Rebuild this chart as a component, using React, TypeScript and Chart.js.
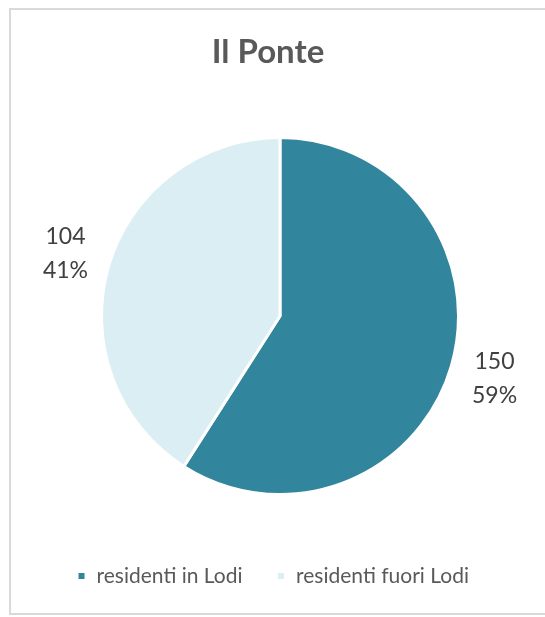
import React, { useEffect, useRef } from "react";
import { Chart, registerables } from "chart.js";

Chart.register(...registerables);

const TITLE = "Il Ponte";
const CATEGORIES = ["residenti in Lodi", "residenti fuori Lodi"];
const VALUES = [150, 104];
const COLORS = ["#31859C", "#DAEEF3"];

const FONT = "Lato, 'Open Sans', sans-serif";

const pieLabels = {
  id: "pieLabels",
  afterDatasetsDraw(chart: any) {
    const ctx = chart.ctx;
    const meta = chart.getDatasetMeta(0);
    const data = chart.data.datasets[0].data as number[];
    const total = data.reduce((a, b) => a + b, 0);
    ctx.save();
    ctx.font = `23px ${FONT}`;
    ctx.fillStyle = "#404040";
    ctx.textAlign = "center";
    ctx.textBaseline = "middle";
    meta.data.forEach((arc: any, i: number) => {
      const { x, y, startAngle, endAngle, outerRadius } = arc.getProps(
        ["x", "y", "startAngle", "endAngle", "outerRadius"],
        true
      );
      const mid = (startAngle + endAngle) / 2;
      const r = outerRadius + 45;
      const lx = x + Math.cos(mid) * r;
      const ly = y + Math.sin(mid) * r;
      const pct = Math.round((data[i] / total) * 100) + "%";
      ctx.fillText(String(data[i]), lx, ly - 17);
      ctx.fillText(pct, lx, ly + 17);
    });
    ctx.restore();
  },
};

// shift title and legend slightly left of the pie centre, as in the reference
const boxShift = {
  id: "boxShift",
  afterLayout(chart: any) {
    if (chart.titleBlock) chart.titleBlock.left -= 24;
    if (chart.legend) chart.legend.left -= 14;
  },
};

export default function App() {
  const ref = useRef<HTMLCanvasElement>(null);
  useEffect(() => {
    if (!ref.current) return;
    const chart = new Chart(ref.current, {
      type: "pie",
      data: {
        labels: CATEGORIES,
        datasets: [
          {
            data: VALUES,
            backgroundColor: COLORS,
            borderColor: "#ffffff",
            borderWidth: 3,
            radius: 178.5,
          },
        ],
      },
      options: {
        responsive: false,
        animation: false,
        devicePixelRatio: 1,
        layout: { padding: { left: 15, top: 0, right: 0, bottom: 20.5 } },
        plugins: {
          tooltip: { enabled: false },
          title: {
            display: true,
            text: TITLE,
            color: "#595959",
            font: { family: FONT, size: 33, weight: "bold" },
            padding: { top: 32.5, bottom: 28.5 },
          },
          legend: {
            display: true,
            position: "bottom",
            labels: {
              boxWidth: 9,
              boxHeight: 9,
              padding: 34,
              color: "#595959",
              font: { family: FONT, size: 21 },
            },
          },
        },
      },
      plugins: [pieLabels, boxShift],
    } as any);
    return () => chart.destroy();
  }, []);
  return (
    <div style={{ position: "absolute", left: 0, top: 0, width: 545, height: 617, overflow: "hidden", background: "#fff" }}>
      <div
        style={{
          position: "absolute",
          left: 9,
          top: 8,
          width: 560,
          height: 607,
          border: "2px solid #d9d9d9",
          boxSizing: "border-box",
        }}
      />
      <canvas ref={ref} width={545} height={617} style={{ position: "absolute", left: 0, top: 0, width: 545, height: 617 }} />
    </div>
  );
}
